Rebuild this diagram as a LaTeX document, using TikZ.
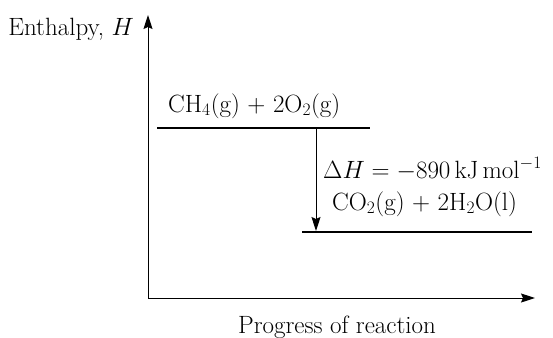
\documentclass[tikz,border=0pt]{standalone}
\usepackage{fix-cm}
\usetikzlibrary{arrows.meta}
\begin{document}
\begin{tikzpicture}[x=1pt,y=-1pt,
  tip/.style={-{Stealth[length=14pt,width=9pt,inset=2pt]}},
  axis/.style={line width=1pt,tip},
  level/.style={line width=1.7pt},
  lbl/.style={inner sep=0pt,font=\fontsize{25}{30}\selectfont}]
\useasboundingbox (0,0) rectangle (553,337);
\coordinate (O) at (148,298);
\coordinate (Ytop) at (148,15);
\coordinate (Xend) at (535,298);
\draw[axis] (O) -- (Ytop);
\draw[axis] (O) -- (Xend);
\node[lbl,anchor=base east] (ylab) at (134,36) {Enthalpy, $H$};
\node[lbl,anchor=base] (xlab) at (337,333) {Progress of reaction};
\coordinate (r1) at (157,128);
\coordinate (r2) at (370,128);
\coordinate (p1) at (302,232);
\coordinate (p2) at (532,232);
\draw[level] (r1) -- (r2);
\draw[level] (p1) -- (p2);
\node[lbl,anchor=base west] (react) at (168,112) {CH$_4$(g) + 2O$_2$(g)};
\node[lbl,anchor=base west] (prod) at (332,210) {CO$_2$(g) + 2H$_2$O(l)};
\node[lbl,anchor=base west] (dh) at (323,178) {$\Delta H = -890\,\mathrm{kJ\,mol^{-1}}$};
\coordinate (a1) at (316,128);
\coordinate (a2) at (316,231);
\draw[line width=1pt,tip] (a1) -- (a2);
\end{tikzpicture}
\end{document}
